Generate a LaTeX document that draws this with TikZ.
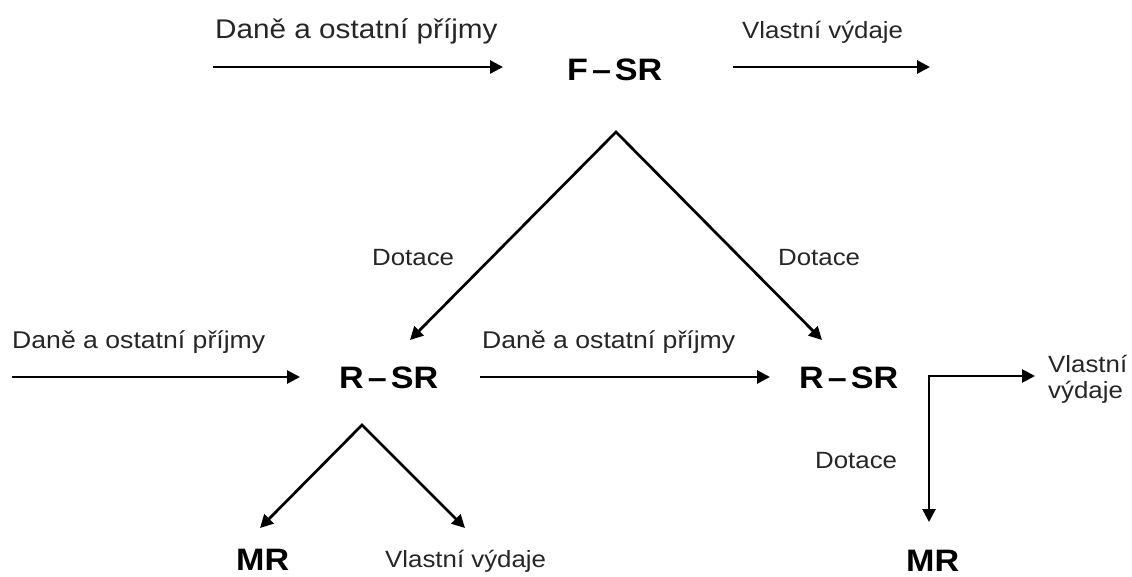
\documentclass[tikz,border=0pt]{standalone}
\usepackage{fontspec}
\setmainfont{Liberation Sans}[FakeStretch=1.1]
\usetikzlibrary{arrows.meta}
\tikzset{
  lab/.style={inner sep=0pt, anchor=base west, text=black!85, font=\fontsize{23.5}{28}\selectfont},
  midlab/.style={lab, font=\fontsize{24.2}{29}\selectfont},
  biglab/.style={lab, font=\fontsize{27}{32}\selectfont},
  org/.style={inner sep=0pt, anchor=base west, font=\fontsize{31}{36}\selectfont\bfseries},
  flow/.style={line width=2.7pt, -{Triangle[length=13pt,width=13pt]}},
  flow2/.style={line width=2.7pt, {Triangle[length=13pt,width=13pt]}-{Triangle[length=13pt,width=13pt]}, line join=miter}
}
\newcommand{\dsh}{\hspace{4pt}–\hspace{4pt}}
\begin{document}
\begin{tikzpicture}[x=1pt,y=-1pt]
\useasboundingbox (0,0) rectangle (1132,577);
% organisation nodes
\node[org] (F) at (567,81) {F\dsh SR};
\node[org] (RL) at (339,388) {R\dsh SR};
\node[org] (RR) at (799,388) {R\dsh SR};
\node[org] (MRL) at (236,570) {MR};
\node[org] (MRR) at (906,571) {MR};
% labels
\node[biglab] (l1) at (215,39) {Daně a ostatní příjmy};
\node[lab] (l2) at (742,39) {Vlastní výdaje};
\node[lab] (l3) at (372,266) {Dotace};
\node[lab] (l4) at (778,266) {Dotace};
\node[midlab] (l5) at (12,348) {Daně a ostatní příjmy};
\node[midlab] (l6) at (482,348) {Daně a ostatní příjmy};
\node[lab] (l7) at (1048,372) {Vlastní};
\node[lab] (l7b) at (1048,398) {výdaje};
\node[lab] (l8) at (815,468) {Dotace};
\node[lab] (l9) at (385,567) {Vlastní výdaje};
% coordinates
\coordinate (a1) at (213,67);
\coordinate (a2) at (503,67);
\coordinate (b1) at (733,67);
\coordinate (b2) at (930,67);
\coordinate (apF) at (616,132);
\coordinate (dl) at (410,340);
\coordinate (dr) at (822,340);
\coordinate (c1) at (12,377);
\coordinate (c2) at (300,377);
\coordinate (m1) at (480,377);
\coordinate (m2) at (770,377);
\coordinate (cor) at (929,376);
\coordinate (vr) at (1035,376);
\coordinate (vd) at (929,522);
\coordinate (apR) at (362,425);
\coordinate (el) at (260,528);
\coordinate (er) at (465,528);
% connectors
\draw[flow] (a1) -- (a2);
\draw[flow] (b1) -- (b2);
\draw[flow2] (dl) -- (apF) -- (dr);
\draw[flow] (c1) -- (c2);
\draw[flow] (m1) -- (m2);
\draw[flow2] (vr) -- (cor) -- (vd);
\draw[flow2] (el) -- (apR) -- (er);
\end{tikzpicture}
\end{document}
